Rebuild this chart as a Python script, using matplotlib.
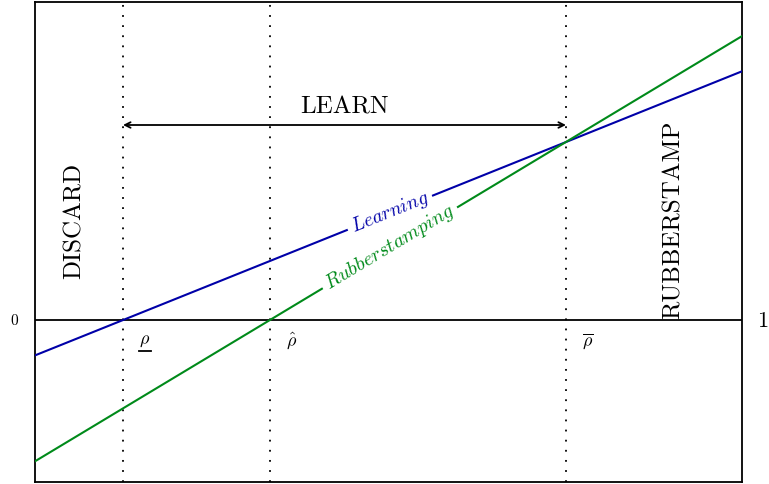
import numpy as np
import matplotlib
matplotlib.use("Agg")
import matplotlib.pyplot as plt
import matplotlib.transforms as mtransforms

plt.rcParams["mathtext.fontset"] = "cm"
plt.rcParams["font.family"] = "cmr10"
plt.rcParams["axes.formatter.use_mathtext"] = True
plt.rcParams["axes.unicode_minus"] = False

# ===== DATA =====
x_ends = [0.0, 1.0]
learning_y = [-0.354, 2.487]
rubber_y = [-1.413, 2.839]
thresholds = [0.1245, 0.3324, 0.751]
threshold_labels = [r"$\rho$", r"$\hat{\rho}$", r"$\overline{\rho}$"]

BLUE = "#0000a8"
GREEN = "#008a1a"

fig = plt.figure(figsize=(7.69, 4.84), dpi=100)
ax = fig.add_axes([35 / 769, 2 / 484, 707 / 769, 480 / 484])
ax.set_xlim(0, 1)
ax.set_ylim(-1.62, 3.18)
ax.set_xticks([])
ax.set_yticks([])
for s in ax.spines.values():
    s.set_linewidth(1.3)

# zero line
ax.axhline(0, color="black", lw=1.3)

# thresholds
for t, lab in zip(thresholds, threshold_labels):
    ax.axvline(t, color="black", lw=1.3, ls=(0, (1, 4.6)))
    ax.text(t + 0.031, -0.21, lab, fontsize=13, ha="center", va="center")

# underline for the lower threshold label
ul = mtransforms.offset_copy(ax.transData, fig=fig, x=0, y=-7, units="points")
ax.plot([thresholds[0] + 0.0225, thresholds[0] + 0.0395], [-0.21, -0.21],
        color="black", lw=1.3, transform=ul)

# lines
ax.plot(x_ends, learning_y, color=BLUE, lw=1.5, zorder=3)
ax.plot(x_ends, rubber_y, color=GREEN, lw=1.5, zorder=3)

# inline labels
def line_at(xs, ys, x):
    return np.interp(x, xs, ys)

def pixel_angle(xs, ys):
    p = ax.transData.transform(np.column_stack([xs, ys]))
    return np.degrees(np.arctan2(p[1, 1] - p[0, 1], p[1, 0] - p[0, 0]))

xl = 0.502
ax.text(xl, line_at(x_ends, learning_y, xl), r"$Learning$", color=BLUE,
        fontsize=14, ha="center", va="center", rotation=pixel_angle(x_ends, learning_y),
        rotation_mode="anchor", zorder=4,
        bbox=dict(facecolor="white", edgecolor="none", pad=3))
ax.text(xl, line_at(x_ends, rubber_y, xl), r"$Rubberstamping$", color=GREEN,
        fontsize=14.5, ha="center", va="center", rotation=pixel_angle(x_ends, rubber_y),
        rotation_mode="anchor", zorder=4,
        bbox=dict(facecolor="white", edgecolor="none", pad=3))

# region labels
ax.annotate("", xy=(thresholds[0], 1.95), xytext=(thresholds[2], 1.95),
            arrowprops=dict(arrowstyle="<->", color="black", lw=1.3,
                            shrinkA=0, shrinkB=0))
ax.text((thresholds[0] + thresholds[2]) / 2, 2.13, "LEARN", fontsize=18,
        ha="center", va="center")
ax.text(0.0566, 0.99, "DISCARD", fontsize=18, rotation=90, ha="center", va="center")
ax.text(0.903, 1.0, "RUBBERSTAMP", fontsize=18, rotation=90, ha="center", va="center")

# axis end labels
fig.text(14 / 769, 1 - 321 / 484, "0", fontsize=11, ha="center", va="center")
fig.text(763 / 769, 1 - 321 / 484, "1", fontsize=16, ha="center", va="center")

fig.savefig("out.png", dpi=100)
